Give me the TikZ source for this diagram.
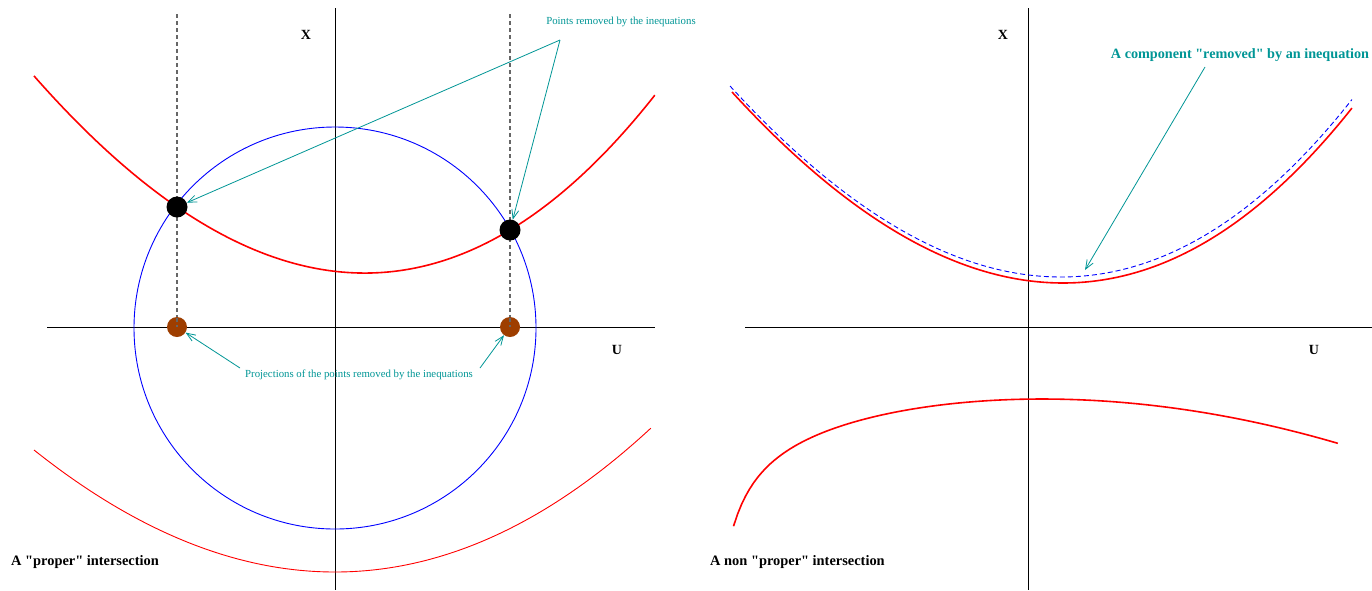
\documentclass[tikz,border=0pt]{standalone}
\usepackage{fontspec}
\setmainfont{Liberation Serif}[Ligatures=TeXOff]
\usetikzlibrary{arrows.meta}
\definecolor{teal1}{RGB}{0,150,150}
\definecolor{brown1}{RGB}{158,62,0}
\definecolor{redc}{RGB}{255,0,0}
\begin{document}
\begin{tikzpicture}[x=1pt,y=-1pt,
  axis/.style={black,line width=0.9pt},
  thickred/.style={redc,line width=1.6pt},
  thinred/.style={redc,line width=0.9pt},
  bluec/.style={blue,line width=0.9pt},
  proj/.style={gray!80!black,line width=1.2pt,dash pattern=on 4pt off 3pt},
  blackdot/.style={circle,fill=black,inner sep=0pt,minimum size=21pt},
  browndot/.style={circle,fill=brown1,inner sep=0pt,minimum size=20pt},
  tarrow/.style={teal1,line width=0.8pt,-{Straight Barb[length=9pt,width=7pt]}},
  smalllab/.style={teal1,font=\fontsize{10.8}{12}\selectfont,inner sep=0pt},
  axislab/.style={font=\fontsize{14}{16}\selectfont\bfseries,inner sep=0pt},
  caption/.style={font=\fontsize{14.4}{16}\selectfont\bfseries,inner sep=0pt,anchor=west},
]
\useasboundingbox (0,0) rectangle (1372,590);
\fill[white] (0,0) rectangle (1372,590);

% ---------- left panel ----------
\draw[axis] (335,8) -- (335,590);
\draw[axis] (47,327) -- (655,327);
\draw[bluec] (335,328) circle[radius=201];
\draw[proj] (177,14) -- (177,327);
\draw[proj] (510,14) -- (510,327);
\draw[thickred] plot[domain=-3.01:3.2,samples=120,variable=\u]
  ({335+100*\u},{271.33+11.587*\u-19.234*\u*\u-0.504*\u*\u*\u});
\draw[thinred] plot[domain=-3.01:3.16,samples=120,variable=\u]
  ({335+100*\u},{572-13.932*\u*\u-0.1547*\u*\u*\u});

\node[blackdot] (p1) at (177,207) {};
\node[blackdot] (p2) at (510,230) {};
\node[browndot] (q1) at (177,327) {};
\node[browndot] (q2) at (510,327) {};
\draw[proj] (177,318) -- (177,327);
\draw[proj] (510,318) -- (510,327);

\node[axislab] (xl) at (306,35) {X};
\node[axislab] (ul) at (617,350) {U};

\node[smalllab] (lab1) at (621,22) {Points removed by the inequations};
\coordinate (c1) at (560,40);
\draw[tarrow] (c1) -- (p1);
\draw[tarrow] (c1) -- (p2);

\node[smalllab] (lab2) at (359,375) {Projections of the points removed by the inequations};
\coordinate (c2) at (240,368);
\coordinate (c3) at (480,368);
\draw[tarrow] (c2) -- (q1);
\draw[tarrow] (c3) -- (q2);

\node[caption] (cap1) at (11,562) {A "proper" intersection};

% ---------- right panel ----------
\draw[axis] (1028,8) -- (1028,590);
\draw[axis] (745,327) -- (1372,327);
\draw[blue,line width=0.9pt,dash pattern=on 5pt off 3pt] plot[domain=-3.31:2.91,samples=120,variable=\u]
  ({1061+100*\u},{277-19.312*\u*\u-0.5678*\u*\u*\u});
\draw[thickred] plot[domain=-3.31:2.89,samples=120,variable=\u]
  ({1063+100*\u},{283-19.312*\u*\u-0.5678*\u*\u*\u});
\draw[thickred] plot[domain=-2.765:3.28,samples=150,variable=\u]
  ({1010+100*\u},{388.5+4.6*\u*\u+34.35/(\u+3.1)});

\node[axislab] (xr) at (1003,35) {X};
\node[axislab] (ur) at (1314,350) {U};

\node[teal1,font=\fontsize{14.2}{16}\selectfont\bfseries,inner sep=0pt] (lab3) at (1240,55) {A component "removed" by an inequation};
\coordinate (c4) at (1205,67);
\coordinate (t4) at (1085,270);
\draw[tarrow] (c4) -- (t4);

\node[caption] (cap2) at (710,562) {A non "proper" intersection};
\end{tikzpicture}
\end{document}
